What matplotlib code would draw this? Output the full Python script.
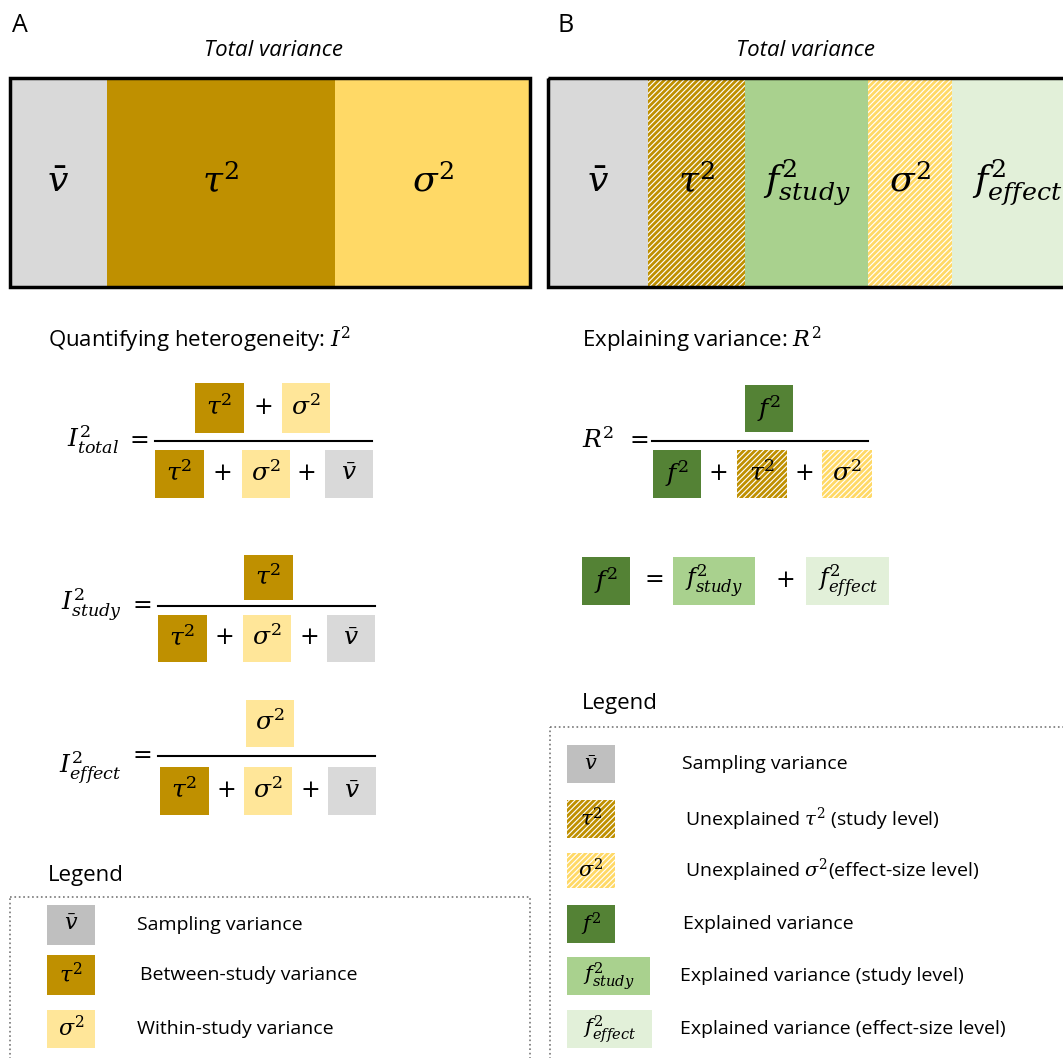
import matplotlib.pyplot as plt
from matplotlib.patches import Rectangle

plt.rcParams['mathtext.fontset'] = 'dejavuserif'
plt.rcParams['hatch.linewidth'] = 2.0
plt.rcParams['font.family'] = ['Open Sans', 'DejaVu Sans']

GREY = '#D9D9D9'
GOLD = '#BF9000'
GOLD_L = '#FFD966'
YEL = '#FFE699'
GREEN = '#A9D18E'
GREEN_L = '#E2F0D9'
GREEN_D = '#548235'

V = r'$\bar{v}$'
T = r'$\tau^2$'
S = r'$\sigma^2$'
F = r'$f^2$'
FS = r'$f^2_{study}$'
FE = r'$f^2_{effect}$'

# total variance bars: label, colour, hatched, width in px
bar_a_labels = [V, T, S]
bar_a_colors = [GREY, GOLD, GOLD_L]
bar_a_widths = [97, 228, 195]
bar_b_labels = [V, T, FS, S, FE]
bar_b_colors = [GREY, GOLD, GREEN, GOLD_L, GREEN_L]
bar_b_hatch = [False, True, False, True, False]
bar_b_widths = [100, 97, 123, 84, 130]

legend_a_text = ['Sampling variance', 'Between-study variance', 'Within-study variance']
legend_b_text = ['Sampling variance', r'Unexplained $\tau^2$ (study level)',
                 r'Unexplained $\sigma^2$(effect-size level)', 'Explained variance',
                 'Explained variance (study level)', 'Explained variance (effect-size level)']

fig = plt.figure(figsize=(10.63, 10.58), dpi=100)
ax = fig.add_axes([0, 0, 1, 1])
ax.set_xlim(0, 1063)
ax.set_ylim(1058, 0)
ax.axis('off')


def box(x0, y0, x1, y1, color, label=None, hatch=False, fs=18):
    if hatch:
        ax.add_patch(Rectangle((x0, y0), x1 - x0, y1 - y0, facecolor='white',
                               edgecolor=color, linewidth=0, hatch='//////'))
    else:
        ax.add_patch(Rectangle((x0, y0), x1 - x0, y1 - y0, facecolor=color, linewidth=0))
    if label:
        ax.text((x0 + x1) / 2, (y0 + y1) / 2, label, ha='center', va='center', fontsize=fs)


def plus(x, y, s='+'):
    ax.text(x, y, '$' + s + '$', ha='center', va='center', fontsize=17)


# Panel titles
ax.text(12, 25, 'A', fontsize=18, va='center')
ax.text(557, 25, 'B', fontsize=18, va='center')
ax.text(273, 50, 'Total variance', fontsize=16, style='italic', ha='center', va='center')
ax.text(806, 50, 'Total variance', fontsize=16, style='italic', ha='center', va='center')

# bar A
x = 10
for lab, col, w in zip(bar_a_labels, bar_a_colors, bar_a_widths):
    box(x, 78, x + w, 287, col, lab, fs=26)
    x += w
ax.add_patch(Rectangle((10, 78), 520, 209, fill=False, lw=2.5, ec='black'))

# bar B
x = 548
for lab, col, h, w in zip(bar_b_labels, bar_b_colors, bar_b_hatch, bar_b_widths):
    box(x, 78, x + w, 287, col, lab, hatch=h, fs=26)
    x += w
ax.add_patch(Rectangle((548, 78), 530, 209, fill=False, lw=2.5, ec='black'))

# Panel A formulas
ax.text(48, 340, r'Quantifying heterogeneity: $I^2$', fontsize=16, va='center')


def formula(label, ly, num, line_y, x0, x1, denom):
    ax.text(x0 - 36, ly, label, ha='right', va='center', fontsize=18)
    ax.text(x0 - 18, line_y - 2, '$=$', ha='center', va='center', fontsize=17)
    for bx0, by0, bx1, by1, col, lab in num:
        box(bx0, by0, bx1, by1, col, lab)
    ax.plot([x0, x1], [line_y, line_y], color='black', lw=1.5)
    for bx0, by0, bx1, by1, col, lab in denom:
        box(bx0, by0, bx1, by1, col, lab)


def denom_row(xs, y0, y1):
    return [(xs[0], y0, xs[0] + 49, y1, GOLD, T),
            (xs[1], y0, xs[1] + 48, y1, YEL, S),
            (xs[2], y0, xs[2] + 48, y1, GREY, V)]


formula(r'$I^2_{total}$', 440, [(195, 383, 244, 433, GOLD, T), (282, 383, 330, 433, YEL, S)],
        441, 155, 372, denom_row([155, 242, 325], 450, 498))
plus(263, 408); plus(222, 474); plus(306, 474)
formula(r'$I^2_{study}$', 605, [(244, 555, 293, 600, GOLD, T)],
        606, 158, 375, denom_row([158, 243, 327], 615, 662))
plus(224, 638); plus(309, 638)
formula(r'$I^2_{effect}$', 768, [(246, 700, 294, 747, YEL, S)],
        756, 158, 375, denom_row([160, 244, 328], 767, 815))
plus(226, 791); plus(310, 791)

# Panel B formulas
ax.text(582, 340, r'Explaining variance: $R^2$', fontsize=16, va='center')
ax.text(582, 441, r'$R^2$', va='center', fontsize=18)
ax.text(625, 439, '$=$', va='center', fontsize=17)
box(745, 385, 793, 432, GREEN_D, F)
ax.plot([652, 868], [441, 441], color='black', lw=1.5)
box(653, 450, 701, 498, GREEN_D, F)
box(737, 450, 787, 498, GOLD, T, hatch=True)
box(822, 450, 872, 498, GOLD_L, S, hatch=True)
plus(718, 474); plus(804, 474)
box(582, 557, 630, 605, GREEN_D, F)
plus(652, 578, '=')
box(673, 557, 755, 605, GREEN, FS, fs=17)
plus(785, 581)
box(806, 557, 889, 605, GREEN_L, FE, fs=17)

# Legend A
ax.text(48, 875, 'Legend', fontsize=16, va='center')
ax.add_patch(Rectangle((10, 897), 520, 170, fill=False, ls=':', lw=1.2, ec='#777777'))
leg_a = [(905, 945, '#BFBFBF', V), (955, 995, GOLD, T), (1010, 1048, YEL, S)]
for (y0, y1, col, lab), txt, tx in zip(leg_a, legend_a_text, [137, 140, 137]):
    box(47, y0, 95, y1, col, lab, fs=16)
    ax.text(tx, (y0 + y1) / 2, txt, fontsize=14, va='center')

# Legend B
ax.text(582, 703, 'Legend', fontsize=16, va='center')
ax.add_patch(Rectangle((550, 727), 520, 340, fill=False, ls=':', lw=1.2, ec='#777777'))
leg_b = [(745, 783, 615, '#BFBFBF', V, False, 682), (800, 838, 615, GOLD, T, True, 685),
         (853, 888, 615, GOLD_L, S, True, 685), (905, 943, 615, GREEN_D, F, False, 683),
         (957, 995, 650, GREEN, FS, False, 680), (1010, 1048, 652, GREEN_L, FE, False, 680)]
for (y0, y1, x1, col, lab, h, tx), txt in zip(leg_b, legend_b_text):
    box(567, y0, x1, y1, col, lab, hatch=h, fs=15)
    ax.text(tx, (y0 + y1) / 2, txt, fontsize=14, va='center')

fig.savefig('out.png', dpi=100)
